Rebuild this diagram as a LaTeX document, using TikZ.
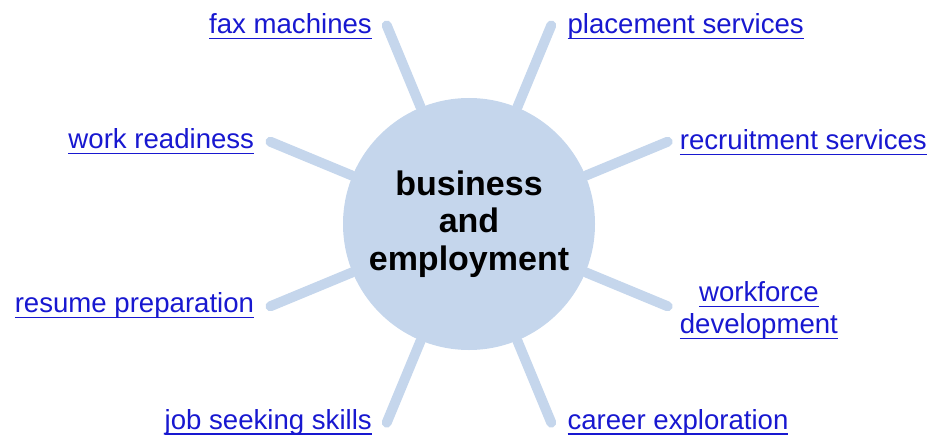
\documentclass[tikz,border=0pt]{standalone}
\usepackage{fontspec}
\setmainfont{Liberation Sans}
\usetikzlibrary{positioning}
\usepackage{xcolor}
\definecolor{hubblue}{RGB}{197,214,236}
\definecolor{linkblue}{RGB}{24,24,208}
\newsavebox{\lnkbox}
\newcommand{\lnk}[1]{\sbox{\lnkbox}{#1}\rlap{\usebox{\lnkbox}}\rule[-4.1pt]{\wd\lnkbox}{1pt}}

\begin{document}
\begin{tikzpicture}[
                x=0.75pt, y=0.75pt,
                hub/.style={circle, fill=hubblue, minimum size=189pt, inner sep=0pt, align=center,
                            font=\fontsize{25.5}{28}\selectfont\bfseries},
                spoke/.style={draw=hubblue, line width=7.5pt, line cap=round},
                link/.style={text=linkblue, inner sep=0pt, font=\fontsize{20.7}{24}\selectfont},
            ]
            \useasboundingbox (-469,-215) rectangle (461,224);

            % Hub in the middle
            \node[hub] (hub) at (0,0) {business\\and\\employment};

            % Spoke ends around the hub
            \foreach \a [count=\i] in {22.5, 67.5, ..., 337.5}
                \coordinate (e\i) at (\a:215);

            % Spokes
            \foreach \i in {1,...,8}
                \draw[spoke] (hub) -- (e\i);

            % Labels on the right
            \node[link, right=9pt of e1, anchor=base west, yshift=-6pt] (recruit) {\lnk{recruitment services}};
            \node[link, right=12pt of e2, anchor=base west, yshift=-6pt] (placement) {\lnk{placement services}};
            \node[link, right=9pt of e8, align=center, yshift=-3pt] (workforce) {\lnk{workforce}\\\lnk{development}};
            \node[link, right=12pt of e7, anchor=base west, yshift=-5pt] (career) {\lnk{career exploration}};

            % Labels on the left
            \node[link, left=11pt of e3, anchor=base east, yshift=-6pt] (fax) {\lnk{fax machines}};
            \node[link, left=12pt of e4, anchor=base east, yshift=-5pt] (readiness) {\lnk{work readiness}};
            \node[link, left=12pt of e5, anchor=base east, yshift=-5pt] (resume) {\lnk{resume preparation}};
            \node[link, left=11pt of e6, anchor=base east, yshift=-5pt] (jobskills) {\lnk{job seeking skills}};

            \end{tikzpicture}
\end{document}
